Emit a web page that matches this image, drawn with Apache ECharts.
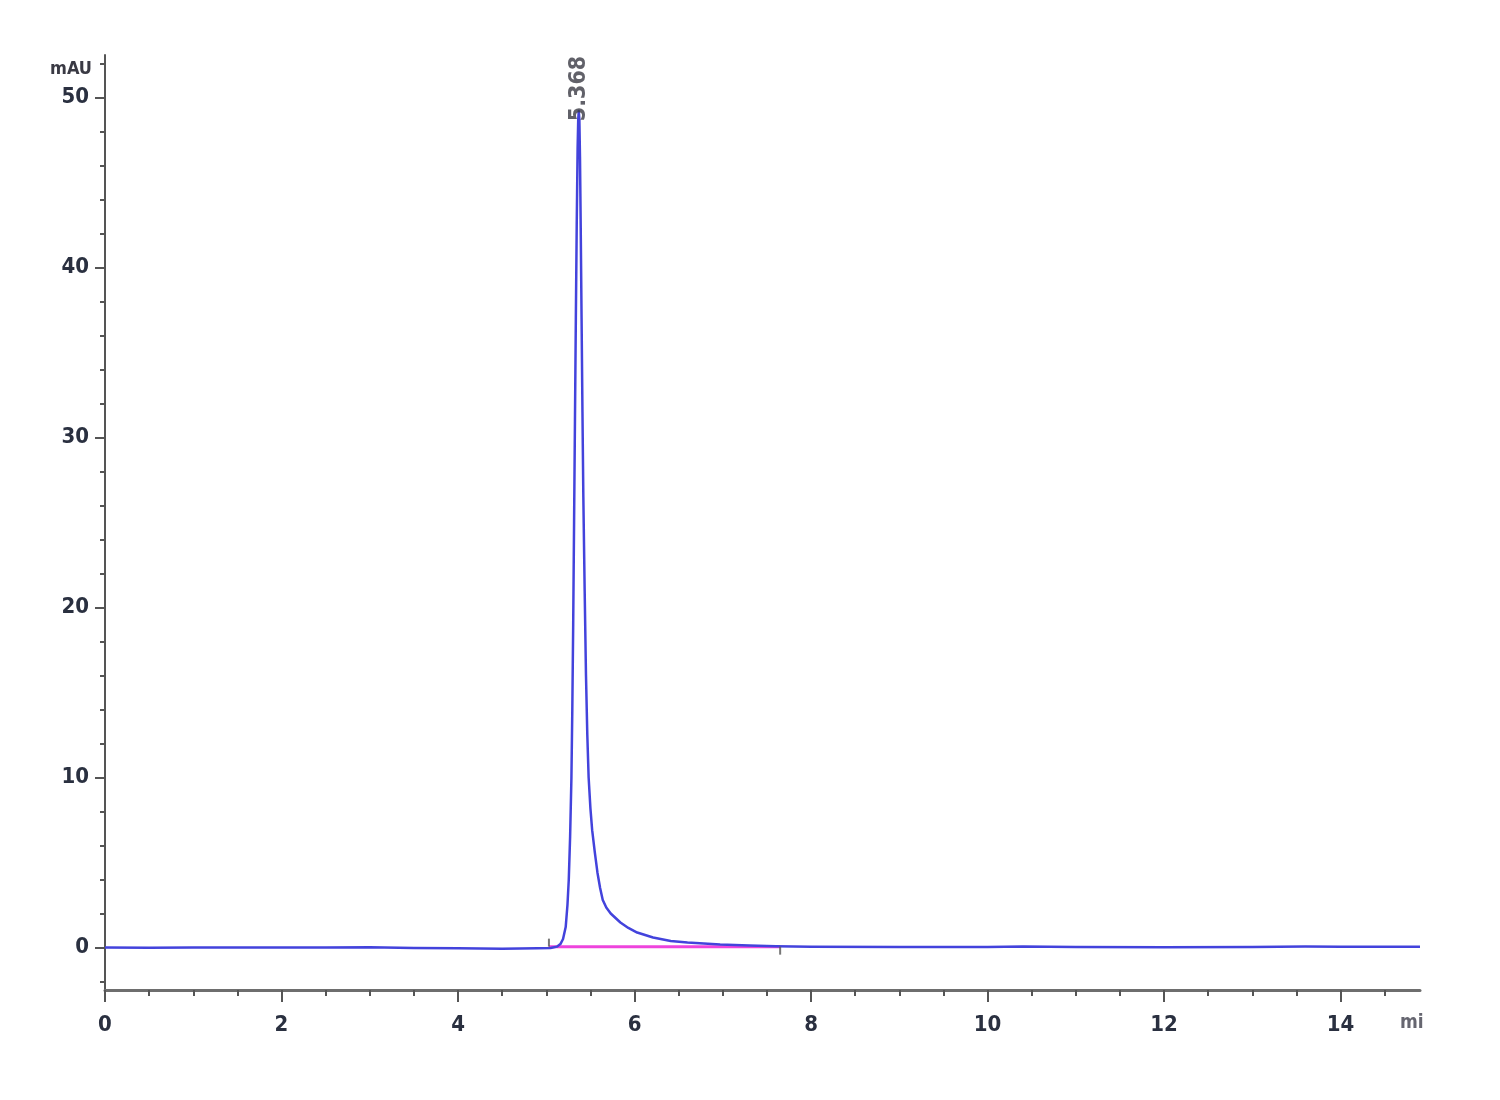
<!DOCTYPE html>
<html>
<head>
<meta charset="utf-8">
<script src="https://cdn.jsdelivr.net/npm/echarts@6/dist/echarts.min.js"></script>
<style>
html,body{margin:0;padding:0;background:#fff;}
#chart{width:1500px;height:1100px;}
</style>
</head>
<body>
<div id="chart"></div>
<script>
// Retention time (min) and detector signal (mAU)
const retentionTime = [0, 0.5, 1.0, 1.5, 2.0, 2.5, 3.0, 3.5, 4.0, 4.5, 4.9, 5.05, 5.12, 5.16, 5.19, 5.22, 5.24, 5.255, 5.27, 5.285, 5.295, 5.305, 5.315, 5.325, 5.335, 5.345, 5.355, 5.362, 5.368, 5.375, 5.382, 5.39, 5.40, 5.41, 5.42, 5.435, 5.45, 5.465, 5.48, 5.50, 5.52, 5.55, 5.58, 5.61, 5.64, 5.68, 5.73, 5.84, 5.93, 6.03, 6.21, 6.41, 6.6, 6.97, 7.3, 7.6, 8.0, 9.0, 10.0, 10.4, 11.0, 12.0, 13.0, 13.6, 14.0, 14.9];
const signal = [0, -0.02, 0, 0, 0, 0, 0.02, -0.03, -0.05, -0.07, -0.05, -0.03, 0.05, 0.2, 0.5, 1.2, 2.5, 4, 6.5, 10, 14, 19, 25, 31, 37, 42.5, 47, 48.7, 49.2, 48.7, 46.5, 42.5, 37, 31.5, 26.5, 21, 16, 12.5, 10, 8.2, 6.9, 5.6, 4.4, 3.5, 2.8, 2.35, 2.0, 1.47, 1.15, 0.88, 0.59, 0.38, 0.29, 0.18, 0.12, 0.08, 0.05, 0.03, 0.03, 0.06, 0.03, 0.02, 0.03, 0.06, 0.04, 0.05];

// Peak annotation
const peakRT = 5.368;
const peakLabelY = 48.6;
const peakLabel = '5.368';

// Integration baseline (start, end)
const baselineRT = [5.03, 7.65];
const baselineY = [0.05, 0.05];

// Tick / label values
const yLabelValues = [0, 10, 20, 30, 40, 50];
const yMinorValues = [-2, 0, 2, 4, 6, 8, 10, 12, 14, 16, 18, 20, 22, 24, 26, 28, 30, 32, 34, 36, 38, 40, 42, 44, 46, 48, 50, 52];
const xLabelValues = [0, 2, 4, 6, 8, 10, 12, 14];
const xMinorValues = [0, 0.5, 1, 1.5, 2, 2.5, 3, 3.5, 4, 4.5, 5, 5.5, 6, 6.5, 7, 7.5, 8, 8.5, 9, 9.5, 10, 10.5, 11, 11.5, 12, 12.5, 13, 13.5, 14, 14.5];

const xMin = 0, xMax = 14.9, yMin = -2.5, yMax = 52.5;

const FONT = "'DejaVu Sans Condensed', 'Liberation Sans Narrow', 'Liberation Sans', sans-serif";

const trace = retentionTime.map((t, i) => [t, signal[i]]);
const baseLine = baselineRT.map((t, i) => [t, baselineY[i]]);
const markOffsets = [[0, -4], [0, 4]];
const marks = baseLine.map((p, i) => ({value: p, symbolOffset: markOffsets[i]}));

const chart = echarts.init(document.getElementById('chart'), null, {renderer: 'canvas'});
chart.setOption({
  animation: false,
  backgroundColor: '#ffffff',
  grid: {left: 105, right: 80, top: 55, bottom: 110, containLabel: false},
  xAxis: [
    {
      type: 'value', min: xMin, max: xMax, position: 'bottom',
      axisLine: {show: true, onZero: false, lineStyle: {color: '#6e6e6e', width: 3}},
      axisTick: {show: true, inside: false, length: 12, customValues: xLabelValues, lineStyle: {color: '#555', width: 2}},
      axisLabel: {show: true, customValues: xLabelValues, margin: 24, fontFamily: FONT, fontWeight: 'bold', fontSize: 22, color: '#2a3040'},
      splitLine: {show: false}
    },
    {
      type: 'value', min: xMin, max: xMax, position: 'bottom', offset: 0,
      axisLine: {show: false, onZero: false},
      axisTick: {show: true, inside: false, length: 6, customValues: xMinorValues, lineStyle: {color: '#555', width: 2}},
      axisLabel: {show: false},
      splitLine: {show: false}
    }
  ],
  yAxis: [
    {
      type: 'value', min: yMin, max: yMax, position: 'left',
      axisLine: {show: true, onZero: false, lineStyle: {color: '#555', width: 2}},
      axisTick: {show: true, inside: false, length: 10, customValues: yLabelValues, lineStyle: {color: '#555', width: 2}},
      axisLabel: {show: true, customValues: yLabelValues, margin: 16, fontFamily: FONT, fontWeight: 'bold', fontSize: 22, color: '#2a3040'},
      splitLine: {show: false}
    },
    {
      type: 'value', min: yMin, max: yMax, position: 'left', offset: 0,
      axisLine: {show: false, onZero: false},
      axisTick: {show: true, inside: false, length: 5, customValues: yMinorValues, lineStyle: {color: '#555', width: 2}},
      axisLabel: {show: false},
      splitLine: {show: false}
    }
  ],
  graphic: [
    {type: 'text', left: 50, top: 60, style: {text: 'mAU', font: "bold 18px " + FONT, fill: '#3a3a44'}},
    {type: 'text', left: 1400, top: 1014, style: {text: 'mi', font: "bold 19px " + FONT, fill: '#666670'}}
  ],
  series: [
    {
      type: 'line', name: 'baseline', xAxisIndex: 0, yAxisIndex: 0,
      data: baseLine, showSymbol: false, symbol: 'none',
      lineStyle: {color: '#ee44dd', width: 3}, z: 2
    },
    {
      type: 'line', name: 'signal', xAxisIndex: 0, yAxisIndex: 0,
      data: trace, showSymbol: false, symbol: 'none', smooth: false,
      lineStyle: {color: '#4343dc', width: 2.5, join: 'round'}, z: 3
    },
    {
      type: 'scatter', name: 'integration marks', xAxisIndex: 0, yAxisIndex: 0,
      data: marks, symbol: 'rect', symbolSize: [2, 8],
      itemStyle: {color: '#555'}, z: 4
    },
    {
      type: 'scatter', name: 'peak label', xAxisIndex: 0, yAxisIndex: 0,
      data: [[peakRT, peakLabelY]], symbolSize: 0.1,
      itemStyle: {color: 'rgba(0,0,0,0)'},
      label: {
        show: true, formatter: peakLabel, position: 'top', distance: 0,
        rotate: 90, align: 'left', verticalAlign: 'middle',
        fontFamily: FONT, fontWeight: 'bold', fontSize: 23, color: '#3a3a44'
      },
      z: 5
    }
  ]
});
</script>
</body>
</html>
